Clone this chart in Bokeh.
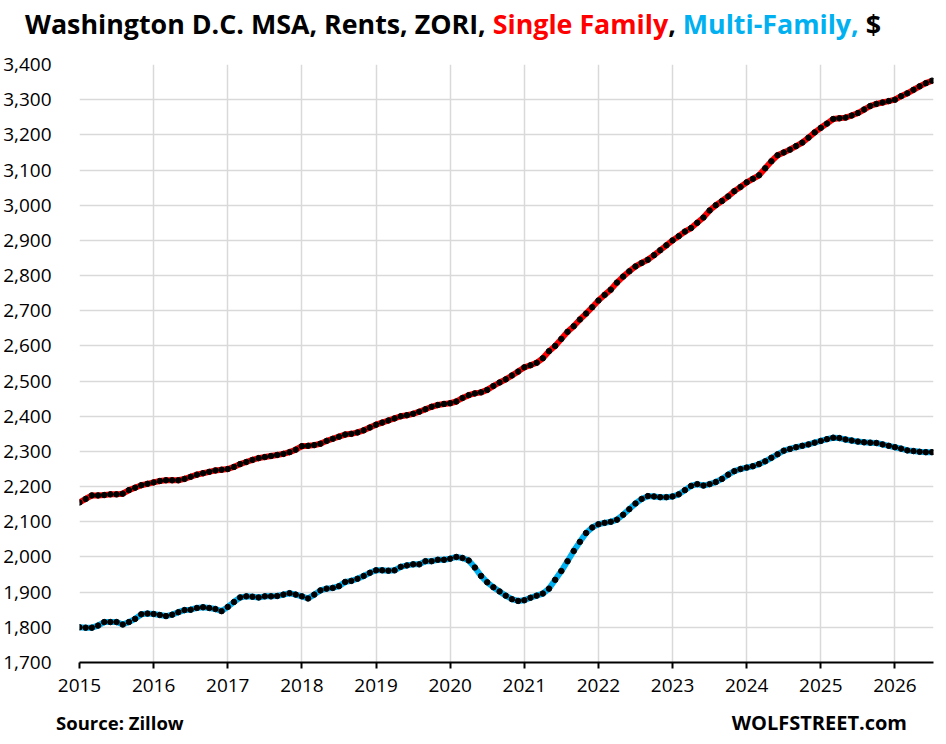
from bokeh.plotting import figure
from bokeh.models import FixedTicker, NumeralTickFormatter, Range1d, Div
from bokeh.layouts import column
from bokeh.embed import file_html
from bokeh.resources import INLINE

start_year = 2015
years = list(range(2015, 2027))
y_ticks = list(range(1700, 3401, 100))

single_family = [
    2155, 2165, 2175, 2175, 2176, 2178, 2178, 2180, 2190, 2197, 2204, 2208,
    2212, 2216, 2218, 2218, 2218, 2222, 2228, 2234, 2238, 2242, 2246, 2248,
    2250, 2256, 2264, 2270, 2276, 2281, 2284, 2287, 2290, 2293, 2298, 2305,
    2315, 2316, 2318, 2322, 2330, 2336, 2342, 2348, 2350, 2354, 2360, 2368,
    2376, 2382, 2388, 2394, 2400, 2403, 2407, 2413, 2420, 2427, 2432, 2435,
    2437, 2442, 2452, 2460, 2465, 2468, 2475, 2486, 2496, 2505, 2516, 2527,
    2539, 2545, 2552, 2565, 2585, 2600, 2620, 2640, 2656, 2675, 2692, 2710,
    2729, 2745, 2760, 2780, 2797, 2812, 2826, 2836, 2845, 2858, 2872, 2886,
    2900, 2912, 2925, 2935, 2950, 2965, 2985, 3000, 3012, 3025, 3040, 3052,
    3065, 3075, 3085, 3105, 3125, 3142, 3150, 3158, 3168, 3178, 3192, 3207,
    3220, 3232, 3245, 3247, 3249, 3255, 3262, 3272, 3282, 3288, 3292, 3296,
    3300, 3310, 3318, 3328, 3338, 3347, 3354,
]

multi_family = [
    1800, 1799, 1799, 1805, 1815, 1815, 1815, 1808, 1815, 1824, 1837, 1839,
    1838, 1835, 1832, 1836, 1843, 1849, 1850, 1855, 1857, 1855, 1852, 1846,
    1858, 1872, 1885, 1888, 1887, 1885, 1888, 1888, 1889, 1893, 1897, 1893,
    1888, 1882, 1893, 1905, 1910, 1912, 1917, 1929, 1932, 1938, 1946, 1955,
    1962, 1962, 1961, 1962, 1972, 1976, 1979, 1979, 1988, 1988, 1992, 1992,
    1995, 2000, 1997, 1990, 1970, 1946, 1928, 1914, 1902, 1890, 1880, 1875,
    1877, 1884, 1890, 1896, 1910, 1935, 1960, 1988, 2017, 2043, 2068, 2084,
    2093, 2097, 2100, 2106, 2120, 2136, 2152, 2165, 2173, 2172, 2170, 2170,
    2172, 2178, 2190, 2202, 2207, 2203, 2207, 2213, 2222, 2234, 2244, 2250,
    2254, 2258, 2264, 2272, 2282, 2292, 2302, 2307, 2312, 2316, 2320, 2325,
    2330, 2335, 2339, 2338, 2334, 2331, 2328, 2326, 2325, 2324, 2320, 2316,
    2312, 2308, 2303, 2301, 2299, 2298, 2298,
]

months = [start_year + i / 12 for i in range(len(single_family))]

RED = "#FF0000"
BLUE = "#00B0F0"
FONT = "Open Sans"
W = 946
HEADER_H = 40
FOOTER_H = 32
MAIN_H = 744 - HEADER_H - FOOTER_H

# ---- header (multi-coloured title) ----
header_html = (
    f'<div style="font-family:\'{FONT}\'; font-weight:bold; font-size:26.8px; '
    f'line-height:27px; padding-top:10px; padding-left:25px; white-space:nowrap; color:black;">'
    f'Washington D.C. MSA, Rents, ZORI, '
    f'<span style="color:{RED};">Single Family</span>, '
    f'<span style="color:{BLUE};">Multi-Family,</span> $</div>'
)
header = Div(text=header_html, width=W, height=HEADER_H, margin=0)

# ---- main chart ----
p = figure(width=W, height=MAIN_H, output_backend="svg", toolbar_location=None,
           x_range=Range1d(2015, 2026.52), y_range=Range1d(1700, 3400),
           min_border_left=78, min_border_right=13, min_border_top=24,
           min_border_bottom=50)
p.outline_line_color = None

p.xgrid.ticker = FixedTicker(ticks=years)
p.ygrid.ticker = FixedTicker(ticks=y_ticks)
for g in (p.xgrid, p.ygrid):
    g.grid_line_color = "#d9d9d9"
    g.grid_line_width = 1.5

p.yaxis.ticker = FixedTicker(ticks=y_ticks)
p.yaxis.formatter = NumeralTickFormatter(format="0,0")
p.yaxis.axis_line_color = None
p.yaxis.major_tick_line_color = None
p.yaxis.minor_tick_line_color = None
p.yaxis.major_label_standoff = 22

p.xaxis.ticker = FixedTicker(ticks=years)
p.xaxis.axis_line_color = "black"
p.xaxis.axis_line_width = 2
p.xaxis.major_tick_line_color = "black"
p.xaxis.major_tick_line_width = 2
p.xaxis.major_tick_out = 6
p.xaxis.major_tick_in = 0
p.xaxis.minor_tick_line_color = None
p.xaxis.major_label_standoff = 10

for ax in (p.xaxis, p.yaxis):
    ax.major_label_text_font = FONT
    ax.major_label_text_font_size = "19px"
    ax.major_label_text_color = "black"

p.line(months, single_family, line_color=RED, line_width=6)
p.scatter(months, single_family, marker="circle", size=5.5, color="black")
p.line(months, multi_family, line_color=BLUE, line_width=6)
p.scatter(months, multi_family, marker="circle", size=5.5, color="black")

# ---- footer ----
footer_html = (
    f'<div style="font-family:\'{FONT}\'; font-weight:bold; color:black; '
    f'position:relative; width:{W}px; height:{FOOTER_H}px;">'
    f'<span style="position:absolute; left:56px; top:2px; font-size:18.5px; '
    f'line-height:18px; white-space:nowrap;">Source: Zillow</span>'
    f'<span style="position:absolute; right:39px; top:2px; font-size:20px; '
    f'line-height:18px; white-space:nowrap;">WOLFSTREET.com</span></div>'
)
footer = Div(text=footer_html, width=W, height=FOOTER_H, margin=0)

layout = column(header, p, footer, spacing=0)
open("out.html", "w").write(file_html(layout, INLINE))
